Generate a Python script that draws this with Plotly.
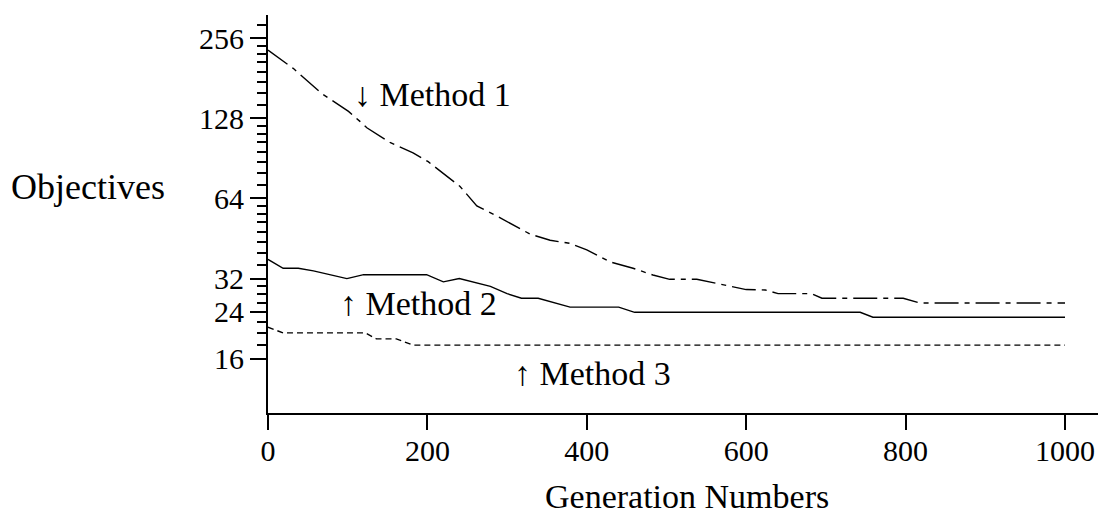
import math
import plotly.graph_objects as go

# ---- data ----
m1_x = [0, 32, 67, 86, 101, 115, 124, 153, 182, 201, 241, 262, 287, 329, 354, 379, 400, 429, 458, 483, 504, 538, 600, 624, 640, 682, 695, 797, 818, 1000]
m1_y = [231, 197, 159, 146, 136, 125, 118, 104, 95, 88, 71, 60, 55, 47, 44.6, 43.4, 41, 37, 35, 33, 31.8, 31.8, 29.1, 29, 28.1, 28.1, 27, 27, 25.9, 25.9]

m2_x = [0, 19, 38, 57, 99, 120, 199, 220, 240, 266, 279, 300, 318, 339, 379, 440, 460, 743, 759, 1000]
m2_y = [37.8, 35, 35, 34.2, 32, 33.1, 33.1, 31.1, 32, 30.6, 29.9, 28.1, 27, 27, 25, 25, 23.9, 23.9, 22.9, 22.9]

m3_x = [0, 19, 122, 136, 161, 182, 1000]
m3_y = [21, 20, 20, 19, 19, 18, 18]

x_ticks = [0, 200, 400, 600, 800, 1000]
y_ticks = [16, 24, 32, 64, 128, 256]
y_minor = ([18, 20, 22, 26, 28, 30] + [36, 40, 44, 48, 52, 56, 60]
           + [72, 80, 88, 96, 104, 112, 120] + [144, 160, 176, 192, 208, 224, 240] + [288])

labels = ["\u2193 Method 1", "\u2191 Method 2", "\u2191 Method 3"]
label_x = [105, 88, 306]
label_y = [157, 25.8, 14.1]

FONT = "Liberation Serif, Times New Roman, serif"

fig = go.Figure()
fig.add_trace(go.Scatter(x=m1_x, y=m1_y, mode="lines",
                         line=dict(color="black", width=1.4, dash="24px,6px,5px,6px")))
fig.add_trace(go.Scatter(x=m2_x, y=m2_y, mode="lines",
                         line=dict(color="black", width=1.4)))
fig.add_trace(go.Scatter(x=m3_x, y=m3_y, mode="lines",
                         line=dict(color="black", width=1.4, dash="6px,4px")))

for t, xx, yy in zip(labels, label_x, label_y):
    fig.add_annotation(x=xx, y=math.log10(yy), xref="x", yref="y", text=t, showarrow=False,
                       xanchor="left", yanchor="middle",
                       font=dict(family=FONT, size=34, color="black"))

# plot area: left 268, right 1098, top 15, bottom 413
W, H = 1098, 516
L, R, T, B = 268, 0, 15, 103
pw = W - L - R
ph = H - T - B

fig.add_annotation(x=(9 - L) / pw, y=(H - B - 187) / ph, xref="paper", yref="paper",
                   text="Objectives", showarrow=False, xanchor="left", yanchor="middle",
                   font=dict(family=FONT, size=36, color="black"))
fig.add_annotation(x=(686.5 - L) / pw, y=(H - B - 496) / ph, xref="paper", yref="paper",
                   text="Generation Numbers", showarrow=False, xanchor="center", yanchor="middle",
                   font=dict(family=FONT, size=34, color="black"))

fig.update_layout(
    width=W, height=H,
    margin=dict(l=L, r=R, t=T, b=B),
    paper_bgcolor="white", plot_bgcolor="white",
    showlegend=False,
    font=dict(family=FONT, size=30, color="black"),
    xaxis=dict(range=[0, 1041.4], tickmode="array", tickvals=x_ticks,
               ticks="outside", ticklen=15, tickwidth=2, tickcolor="black",
               showline=True, linecolor="black", linewidth=2,
               showgrid=False, zeroline=False, ticklabelstandoff=-5,
               tickfont=dict(family=FONT, size=30)),
    yaxis=dict(type="log", range=[1.0, 2.4958], tickmode="array", tickvals=y_ticks,
               ticktext=[str(v) for v in y_ticks],
               ticks="outside", ticklen=16, tickwidth=2, tickcolor="black",
               showline=True, linecolor="black", linewidth=2,
               showgrid=False, zeroline=False,
               tickfont=dict(family=FONT, size=30),
               minor=dict(tickmode="array", tickvals=y_minor, ticks="outside",
                          ticklen=9, tickwidth=2, tickcolor="black", showgrid=False)),
)

fig.write_html("out.html", config={"displayModeBar": False},
               post_script="document.body.style.margin='0px';document.body.style.overflow='hidden';")
